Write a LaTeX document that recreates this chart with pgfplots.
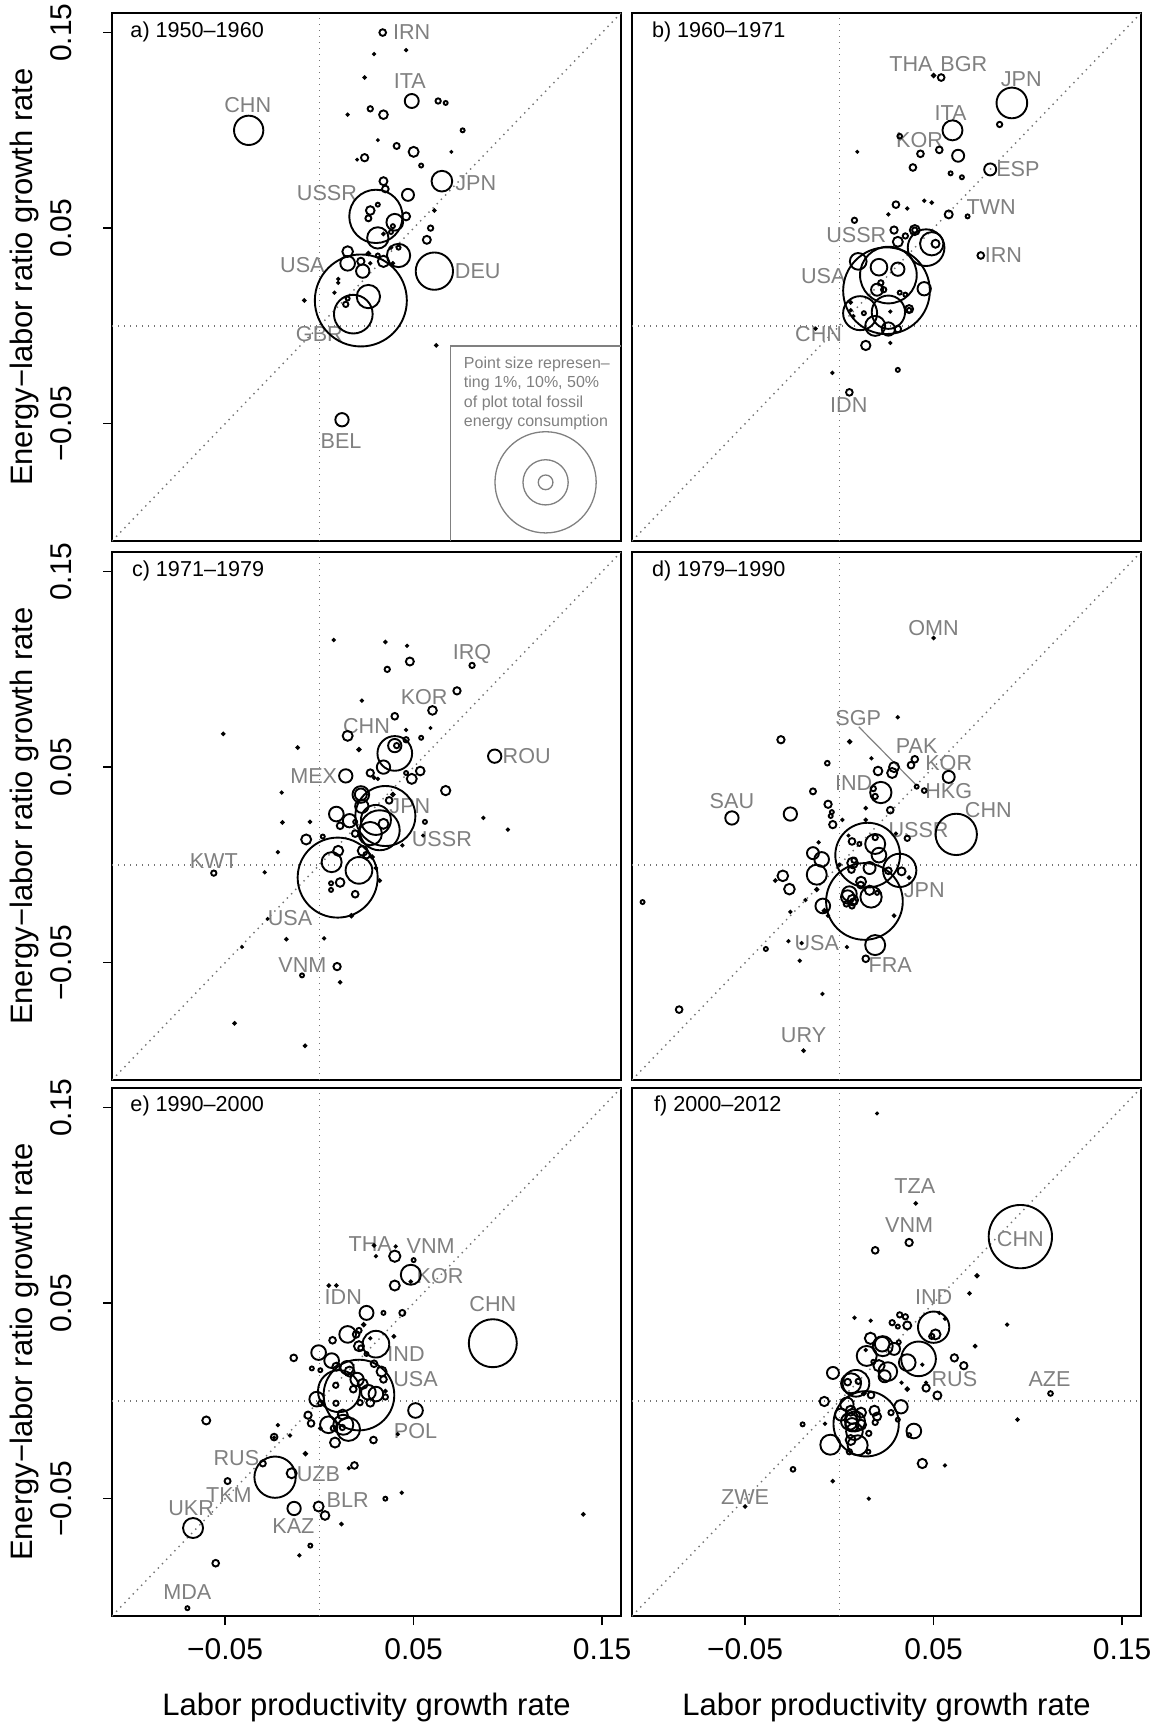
\documentclass[border=0pt]{standalone}
\usepackage{pgfplots}
\pgfplotsset{compat=1.18}
\usepackage{fontspec}
\setmainfont{Liberation Sans}
\definecolor{labgray}{gray}{0.5}
\definecolor{refgray}{gray}{0.45}
\newcommand\lab[3]{\node[text=labgray,font=\fontsize{10.8}{12}\selectfont,inner sep=0pt] at (axis cs:#1,#2) {#3};}
\newcommand\ptitle[3]{\node[anchor=west,font=\fontsize{10.8}{12}\selectfont,inner sep=0pt] at (axis cs:#1,#2) {#3};}
\pgfplotsset{
  panel/.style={scale only axis, width=254.5pt, height=264pt,
    xmin=-0.11, xmax=0.16, ymin=-0.11, ymax=0.16,
    axis line style={line width=0.8pt},
    tick style={line width=0.8pt, black},
    tick align=outside, major tick length=4.5pt,
    xtick=\empty, ytick=\empty,
    tick label style={font=\fontsize{15}{18}\selectfont},
    label style={font=\fontsize{15.5}{18}\selectfont}},
  leftcol/.style={ytick={-0.05,0.05,0.15}, yticklabels={−0.05,0.05,0.15},
    ytick pos=left,
    yticklabel style={rotate=90, anchor=south, inner sep=0pt, yshift=6pt},
    yticklabel shift=9.5pt,
    ylabel={Energy−labor ratio growth rate},
    ylabel style={at={(axis description cs:-0.171,0.5)}, anchor=center}},
  bottomrow/.style={xtick={-0.05,0.05,0.15}, xticklabels={−0.05,0.05,0.15},
    xtick pos=left,
    xticklabel style={anchor=north, inner sep=0pt},
    xticklabel shift=6.75pt,
    xlabel={Labor productivity growth rate},
    xlabel style={at={(axis description cs:0.5,-0.174)}, anchor=center}},
  bubbles/.style={scatter, only marks, mark=o, line width=0.95pt,
    scatter/use mapped color={draw=black},
    visualization depends on={\thisrow{r} \as \rr},
    scatter/@pre marker code/.append style={/tikz/mark size=\rr pt}},
  refl/.style={refgray, line width=0.7pt, dash pattern=on 0.7pt off 2.3pt, forget plot},
}
\newcommand\reflines{%
  \addplot[refl] coordinates {(-0.11,-0.11) (0.16,0.16)};
  \addplot[refl] coordinates {(0,-0.11) (0,0.16)};
  \addplot[refl] coordinates {(-0.11,0) (0.16,0)};
}
\begin{document}
\begin{tikzpicture}
\useasboundingbox (0,0) rectangle (575.5pt,-862pt);
% ---------------- a) 1950-1960
\begin{axis}[panel, leftcol, at={(56pt,-6.5pt)}, anchor=north west]
\reflines
\addplot[refl, labgray, dash pattern=, line width=0.6pt] coordinates {(0.0694,-0.11) (0.0694,-0.0103) (0.16,-0.0103)};
\addplot[bubbles] table {
x y r
0.0336 0.150 1.67
0.029 0.139 0.5
0.046 0.141 0.5
0.024 0.127 0.6
0.049 0.115 3.5
0.063 0.115 1.33
0.067 0.114 1.0
0.027 0.111 1.33
0.034 0.108 2.17
0.015 0.108 0.5
-0.0375 0.100 7.33
0.076 0.100 1.0
0.031 0.095 0.4
0.041 0.092 1.5
0.050 0.089 2.5
0.070 0.089 0.4
0.024 0.086 1.83
0.020 0.085 0.4
0.054 0.082 1.0
0.065 0.074 5.17
0.034 0.074 2.0
0.035 0.070 1.67
0.030 0.056 13.33
0.047 0.067 3.0
0.031 0.062 1.0
0.027 0.059 2.17
0.026 0.055 1.5
0.046 0.056 2.0
0.040 0.053 4.17
0.039 0.051 1.0
0.031 0.045 5.33
0.038 0.048 1.0
0.034 0.047 0.6
0.061 0.059 0.6
0.059 0.050 1.33
0.057 0.044 2.0
0.015 0.038 2.67
0.026 0.037 0.8
0.031 0.036 1.0
0.042 0.036 5.83
0.042 0.040 1.0
0.038 0.040 0.6
0.022 0.033 1.83
0.034 0.033 2.83
0.039 0.032 0.6
0.027 0.032 0.5
0.022 0.013 23.0
0.015 0.032 3.67
0.023 0.028 3.33
0.061 0.028 9.33
0.010 0.024 0.5
0.010 0.022 0.5
0.008 0.017 0.5
0.026 0.015 5.83
0.018 0.006 9.67
0.014 0.011 1.33
0.015 0.014 1.0
-0.008 0.013 0.6
0.062 -0.010 0.6
0.012 -0.048 3.33
};
\addplot[only marks, mark=o, mark size=25.3pt, labgray, line width=0.65pt, forget plot] coordinates {(0.12,-0.08)};
\addplot[only marks, mark=o, mark size=11.3pt, labgray, line width=0.65pt, forget plot] coordinates {(0.12,-0.08)};
\addplot[only marks, mark=o, mark size=3.67pt, labgray, line width=0.65pt, forget plot] coordinates {(0.12,-0.08)};
\node[anchor=north west, align=left, inner sep=0pt, text=labgray, font=\fontsize{8}{9.8}\selectfont] at (axis cs:0.0765,-0.0155) {Point size represen–\\ting 1\%, 10\%, 50\%\\of plot total fossil\\energy consumption};
\ptitle{-0.1004}{0.1505}{a) 1950–1960}
\lab{0.049}{0.150}{IRN}
\lab{0.048}{0.125}{ITA}
\lab{-0.038}{0.113}{CHN}
\lab{0.083}{0.073}{JPN}
\lab{0.004}{0.068}{USSR}
\lab{-0.009}{0.031}{USA}
\lab{0.084}{0.028}{DEU}
\lab{0.0}{-0.004}{GBR}
\lab{0.0115}{-0.059}{BEL}
\end{axis}
% ---------------- b) 1960-1971
\begin{axis}[panel, at={(316pt,-6.5pt)}, anchor=north west]
\reflines
\addplot[bubbles] table {
x y r
0.050 0.128 0.83
0.054 0.127 1.67
0.0915 0.114 7.67
0.085 0.103 1.33
0.060 0.100 5.0
0.032 0.097 1.17
0.0095 0.089 0.4
0.043 0.088 1.67
0.053 0.090 1.67
0.063 0.087 3.0
0.039 0.081 1.67
0.080 0.080 3.0
0.059 0.078 1.0
0.065 0.076 1.0
0.045 0.064 0.5
0.049 0.063 0.6
0.030 0.062 1.67
0.036 0.060 0.5
0.026 0.057 0.5
0.058 0.057 2.0
0.068 0.056 1.0
0.008 0.054 1.33
0.029 0.049 1.83
0.040 0.049 2.5
0.040 0.049 1.33
0.035 0.046 1.33
0.046 0.040 9.17
0.051 0.042 2.0
0.049 0.042 5.83
0.031 0.043 2.5
0.075 0.036 1.67
0.025 0.018 21.67
0.010 0.033 4.17
0.021 0.030 4.17
0.031 0.029 3.33
0.026 0.026 14.17
0.045 0.019 3.33
0.022 0.022 1.33
0.020 0.0185 3.0
0.0235 0.0185 1.33
0.032 0.017 1.0
0.035 0.016 1.0
0.011 0.0065 8.5
0.026 0.007 8.33
0.019 0.000 5.0
0.026 -0.0016 3.33
0.031 -0.0016 1.67
0.037 0.0086 2.0
0.037 0.008 1.17
0.006 0.012 0.6
0.006 0.008 0.5
0.0074 0.005 0.5
0.013 0.0065 1.0
0.027 0.0073 0.5
-0.0126 -0.0014 0.5
0.014 -0.010 2.33
0.027 -0.0087 0.5
0.031 -0.0225 1.0
-0.0037 -0.024 0.5
0.0053 -0.034 1.67
};
\ptitle{-0.0996}{0.1505}{b) 1960–1971}
\lab{0.038}{0.134}{THA}
\lab{0.066}{0.134}{BGR}
\lab{0.0965}{0.126}{JPN}
\lab{0.059}{0.109}{ITA}
\lab{0.0425}{0.095}{KOR}
\lab{0.0947}{0.080}{ESP}
\lab{0.0805}{0.061}{TWN}
\lab{0.009}{0.0465}{USSR}
\lab{0.087}{0.036}{IRN}
\lab{-0.0085}{0.0255}{USA}
\lab{-0.011}{-0.004}{CHN}
\lab{0.005}{-0.0405}{IDN}
\end{axis}
% ---------------- c) 1971-1979
\begin{axis}[panel, leftcol, at={(56pt,-276pt)}, anchor=north west]
\reflines
\addplot[bubbles] table {
x y r
0.0076 0.115 0.5
0.035 0.114 0.6
0.0465 0.112 0.5
0.048 0.104 2.0
0.036 0.100 1.33
0.081 0.102 1.33
0.073 0.089 1.83
0.0225 0.084 0.5
0.060 0.079 2.17
0.040 0.076 1.67
-0.051 0.067 0.6
0.015 0.066 2.5
0.046 0.069 0.5
0.059 0.070 0.4
0.054 0.065 1.0
0.046 0.064 1.33
-0.0115 0.060 0.6
0.021 0.059 0.8
0.040 0.057 8.67
0.040 0.061 3.33
0.041 0.061 1.33
0.093 0.0556 3.33
0.034 0.050 3.33
0.027 0.047 1.83
0.029 0.0446 0.6
0.031 0.044 0.5
0.046 0.047 1.0
0.0535 0.048 2.17
0.049 0.044 2.5
0.014 0.0455 3.33
0.067 0.038 2.33
-0.020 0.037 0.5
0.022 0.036 4.17
0.022 0.036 3.0
0.0225 0.030 3.33
0.035 0.025 15.0
0.032 0.0177 10.0
0.030 0.023 7.5
0.027 0.016 5.83
0.034 0.021 2.5
0.037 0.033 1.67
0.039 0.036 0.8
0.087 0.024 0.5
0.100 0.018 0.5
0.056 0.022 1.0
0.055 0.015 0.4
0.044 0.010 0.5
0.009 0.026 3.67
0.016 0.0226 3.33
0.011 0.020 1.67
0.019 0.022 1.0
-0.005 0.022 0.6
-0.0196 0.0217 0.6
0.019 0.016 1.67
-0.007 0.013 2.5
0.0018 0.0145 1.0
-0.022 0.0065 0.5
0.0097 -0.0065 20.0
0.0065 0.0014 5.0
0.021 -0.0028 6.67
0.010 0.0072 2.5
0.023 0.0072 2.5
0.025 0.005 1.67
0.028 0.004 0.8
0.030 -0.0016 0.6
0.032 -0.008 0.6
0.011 -0.009 2.17
0.0062 -0.0094 1.0
0.0062 -0.0128 1.0
0.019 -0.015 1.67
0.017 -0.026 0.8
-0.056 -0.0042 1.33
-0.029 -0.0038 0.5
-0.0274 -0.0276 0.4
-0.0175 -0.038 0.6
0.0025 -0.0376 0.5
-0.041 -0.042 0.4
-0.0092 -0.0565 1.0
0.0094 -0.052 1.83
0.011 -0.060 0.6
-0.045 -0.081 0.6
-0.0076 -0.0925 0.6
};
\ptitle{-0.0996}{0.1505}{c) 1971–1979}
\lab{0.081}{0.108}{IRQ}
\lab{0.0556}{0.086}{KOR}
\lab{0.025}{0.071}{CHN}
\lab{0.110}{0.0556}{ROU}
\lab{-0.003}{0.0456}{MEX}
\lab{0.048}{0.030}{JPN}
\lab{0.065}{0.013}{USSR}
\lab{-0.056}{0.002}{KWT}
\lab{-0.0156}{-0.027}{USA}
\lab{-0.009}{-0.051}{VNM}
\end{axis}
% ---------------- d) 1979-1990
\begin{axis}[panel, at={(316pt,-276pt)}, anchor=north west]
\reflines
\addplot[labgray, line width=0.6pt, forget plot] coordinates {(0.0103,0.0706) (0.0412,0.0404)};
\addplot[bubbles] table {
x y r
0.050 0.116 0.6
0.041 0.040 1.0
0.031 0.0755 0.5
-0.031 0.064 1.83
0.0055 0.063 0.8
0.040 0.054 1.67
0.038 0.051 1.67
0.017 0.0545 0.5
-0.0064 0.052 1.17
0.029 0.050 2.5
0.028 0.047 2.5
0.0205 0.048 2.17
0.058 0.045 3.0
0.045 0.038 1.17
0.022 0.037 5.33
0.018 0.039 1.33
0.019 0.035 1.33
-0.014 0.0376 1.5
-0.057 0.024 3.33
-0.026 0.026 3.33
-0.006 0.031 1.83
-0.004 0.027 1.0
-0.0046 0.025 1.0
-0.0035 0.0206 1.83
0.0016 0.023 0.5
0.014 0.029 0.6
0.014 0.023 0.6
0.027 0.028 1.67
0.062 0.0156 10.33
0.015 0.005 16.17
0.030 0.016 0.5
0.036 0.0136 1.33
0.019 0.0107 5.0
0.019 0.014 1.33
0.021 0.005 3.67
0.0067 0.012 1.67
0.0106 0.0107 1.0
0.0048 0.015 0.4
-0.011 0.0115 0.5
-0.014 0.006 3.0
-0.0094 0.0028 3.67
-0.012 -0.005 5.0
-0.012 -0.0126 0.8
0.0 0.0 0.6
0.032 -0.0028 8.33
0.026 -0.003 1.67
0.033 -0.0033 2.0
0.037 -0.0065 0.6
0.0133 -0.0187 19.17
0.007 0.001 2.67
0.0078 0.0024 1.33
0.0064 -0.0024 1.67
0.016 -0.0016 3.0
0.0115 -0.0086 2.5
0.0113 -0.0103 1.67
0.016 -0.013 2.33
0.020 -0.0143 1.0
0.0053 -0.0147 3.67
0.0044 -0.0164 3.33
0.0168 -0.0164 5.33
0.0071 -0.018 2.67
0.0074 -0.0189 1.67
0.0067 -0.021 1.33
0.0037 -0.020 1.33
-0.030 -0.0056 2.67
-0.034 -0.008 0.6
-0.0265 -0.0124 2.67
-0.1044 -0.019 1.0
-0.0088 -0.021 3.67
-0.008 -0.0234 0.8
-0.018 -0.018 0.5
-0.026 -0.024 0.5
-0.006 -0.026 0.5
0.029 -0.026 0.6
0.019 -0.041 5.0
0.014 -0.048 1.67
-0.027 -0.039 0.5
-0.020 -0.040 0.5
0.004 -0.042 0.5
-0.021 -0.049 0.5
-0.039 -0.043 1.0
-0.009 -0.066 0.5
-0.085 -0.074 1.67
-0.019 -0.095 0.6
};
\ptitle{-0.0996}{0.1505}{d) 1979–1990}
\lab{0.050}{0.121}{OMN}
\lab{0.010}{0.075}{SGP}
\lab{0.041}{0.061}{PAK}
\lab{0.058}{0.052}{KOR}
\lab{0.0076}{0.0416}{IND}
\lab{0.058}{0.038}{HKG}
\lab{-0.057}{0.0325}{SAU}
\lab{0.079}{0.028}{CHN}
\lab{0.042}{0.0177}{USSR}
\lab{0.045}{-0.013}{JPN}
\lab{-0.012}{-0.040}{USA}
\lab{0.027}{-0.051}{FRA}
\lab{-0.019}{-0.087}{URY}
\end{axis}
% ---------------- e) 1990-2000
\begin{axis}[panel, leftcol, bottomrow, at={(56pt,-544pt)}, anchor=north west]
\reflines
\addplot[bubbles] table {
x y r
0.029 0.0795 0.6
0.0405 0.079 0.5
0.030 0.074 0.5
0.040 0.074 2.83
0.050 0.072 1.0
0.0485 0.0645 5.0
0.0485 0.061 0.6
0.040 0.059 2.5
0.005 0.059 0.6
0.009 0.059 0.6
0.092 0.0295 12.0
0.025 0.045 3.5
0.034 0.045 1.0
0.044 0.045 1.5
0.0235 0.039 0.8
0.021 0.036 1.33
0.015 0.034 4.17
0.0195 0.034 1.67
0.007 0.031 1.67
0.030 0.029 6.67
0.027 0.032 0.5
0.0395 0.033 0.6
0.021 0.028 2.5
0.022 0.027 1.33
0.025 0.024 1.0
-0.0136 0.022 1.67
-0.0004 0.0247 3.67
0.0065 0.0206 3.67
-0.004 0.0166 1.0
0.0005 0.0157 1.0
0.009 0.0175 2.0
0.0147 0.017 3.33
0.016 0.015 2.5
0.029 0.019 1.67
0.033 0.015 2.5
0.034 0.011 1.67
0.021 0.003 17.67
0.0104 0.005 10.5
0.0087 0.008 1.33
0.020 0.011 3.33
0.023 0.0087 2.5
0.018 0.006 1.67
0.026 0.0044 3.67
0.030 0.0035 3.67
0.027 -0.0009 2.0
0.0216 -0.0009 1.33
0.035 0.005 0.6
0.035 0.002 1.33
-0.0014 0.0009 3.67
0.0007 -0.0012 1.33
0.0088 -0.0012 1.33
0.051 -0.0049 3.67
0.0416 -0.017 0.5
0.0124 -0.007 2.5
-0.006 -0.0073 1.83
-0.0044 -0.0115 1.67
0.0048 -0.0122 4.17
0.0127 -0.0122 5.0
0.0154 -0.0145 5.83
0.0074 -0.014 1.33
0.0122 -0.0136 1.33
0.0005 -0.014 0.6
0.0083 -0.0213 2.5
0.0287 -0.020 1.67
-0.060 -0.010 2.0
-0.022 -0.0124 0.5
-0.024 -0.0185 1.67
-0.024 -0.0187 0.5
-0.0156 -0.0177 0.5
-0.0235 -0.039 10.33
-0.030 -0.032 1.5
-0.0147 -0.037 2.5
-0.0074 -0.027 0.8
0.0186 -0.033 1.67
0.0156 -0.0344 0.5
-0.0487 -0.041 1.5
0.0437 -0.047 0.5
0.035 -0.050 1.0
-0.0004 -0.054 2.5
0.003 -0.0586 2.17
-0.0134 -0.055 3.33
-0.067 -0.065 5.0
0.0117 -0.063 0.6
0.140 -0.058 0.6
-0.0048 -0.074 1.0
-0.0106 -0.079 0.5
-0.055 -0.083 1.67
-0.070 -0.106 1.0
};
\ptitle{-0.1004}{0.1506}{e) 1990–2000}
\lab{0.027}{0.080}{THA}
\lab{0.059}{0.079}{VNM}
\lab{0.064}{0.064}{KOR}
\lab{0.0127}{0.053}{IDN}
\lab{0.092}{0.0495}{CHN}
\lab{0.046}{0.024}{IND}
\lab{0.051}{0.0114}{USA}
\lab{0.051}{-0.0154}{POL}
\lab{-0.044}{-0.029}{RUS}
\lab{-0.0005}{-0.0376}{UZB}
\lab{-0.048}{-0.048}{TKM}
\lab{0.015}{-0.0507}{BLR}
\lab{-0.0138}{-0.0638}{KAZ}
\lab{-0.068}{-0.055}{UKR}
\lab{-0.070}{-0.098}{MDA}
\end{axis}
% ---------------- f) 2000-2012
\begin{axis}[panel, bottomrow, at={(316pt,-544pt)}, anchor=north west]
\reflines
\addplot[bubbles] table {
x y r
0.020 0.147 0.4
0.0405 0.101 0.6
0.037 0.081 1.83
0.019 0.077 1.67
0.096 0.084 15.83
0.073 0.064 0.8
0.069 0.055 0.6
0.050 0.0377 7.83
0.053 0.045 0.5
0.056 0.042 0.5
0.051 0.034 2.5
0.049 0.033 1.33
0.008 0.0425 0.5
0.0166 0.041 0.5
0.028 0.040 1.33
0.032 0.044 1.33
0.035 0.043 1.33
0.036 0.0386 2.0
0.031 0.038 1.0
0.089 0.039 0.5
0.0165 0.032 2.83
0.0227 0.029 3.67
0.023 0.028 5.0
0.029 0.0266 3.0
0.0315 0.030 1.0
0.0145 0.023 5.0
0.014 0.026 0.5
0.018 0.020 1.0
0.042 0.0215 8.67
0.036 0.0196 4.17
0.044 0.0185 0.5
0.021 0.018 2.83
0.0257 0.015 4.67
0.024 0.0126 3.0
0.061 0.022 1.83
0.066 0.018 1.83
0.072 0.028 0.6
0.046 0.0066 1.83
0.046 0.0093 0.5
0.052 0.0028 2.0
0.033 0.0093 0.5
0.036 0.006 0.8
0.112 0.0038 1.17
-0.0034 0.0143 3.0
0.0062 0.009 5.0
0.0088 0.009 6.67
0.0044 0.0096 1.67
0.010 0.010 1.33
0.013 0.0038 0.8
0.0168 0.003 1.67
0.0142 -0.0117 16.33
-0.008 -0.0003 2.33
0.0327 -0.003 3.33
0.0274 -0.006 1.33
0.031 -0.0096 1.0
0.0186 -0.005 2.5
0.020 -0.008 2.0
0.019 -0.011 1.33
0.004 -0.0017 3.33
0.006 -0.005 2.5
0.007 -0.008 3.67
0.0083 -0.0105 5.0
0.0053 -0.0105 4.17
0.0067 -0.0122 3.33
0.0115 -0.0122 2.5
0.0156 -0.0166 1.33
0.008 -0.0157 4.17
0.006 -0.020 2.5
0.0097 -0.0227 5.0
-0.0048 -0.0224 5.0
0.0053 -0.026 1.33
0.0154 -0.026 1.0
0.0115 -0.006 2.5
0.0009 -0.007 3.0
0.0395 -0.0154 3.67
0.037 -0.0175 1.0
-0.0076 -0.0117 0.5
-0.0195 -0.012 1.0
0.0945 -0.0096 0.6
0.044 -0.032 2.33
0.056 -0.033 0.5
-0.0246 -0.035 1.17
-0.0035 -0.041 0.6
0.0156 -0.050 0.5
-0.050 -0.054 0.6
};
\ptitle{-0.0985}{0.1506}{f) 2000–2012}
\lab{0.040}{0.110}{TZA}
\lab{0.037}{0.090}{VNM}
\lab{0.096}{0.083}{CHN}
\lab{0.050}{0.053}{IND}
\lab{0.061}{0.011}{RUS}
\lab{0.1115}{0.011}{AZE}
\lab{-0.050}{-0.049}{ZWE}
\end{axis}
\end{tikzpicture}
\end{document}
